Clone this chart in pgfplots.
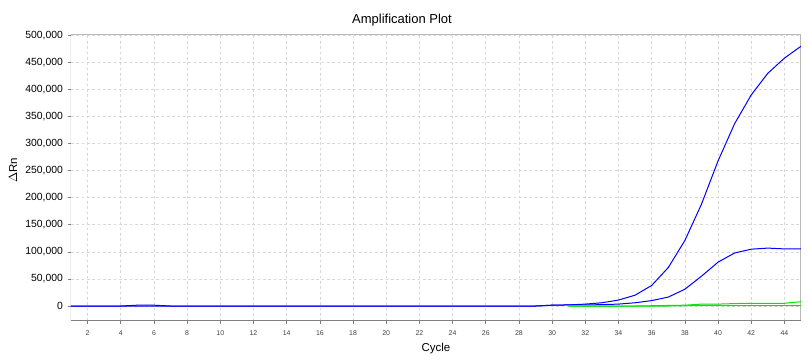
\documentclass[border=0pt]{standalone}
\usepackage{pgfplots}
\pgfplotsset{compat=1.18}
\usepackage{fontspec}
\setmainfont{Liberation Sans}
\definecolor{gridc}{RGB}{215,215,215}
\definecolor{spinedark}{RGB}{128,128,128}
\definecolor{spinelight}{RGB}{185,185,185}
\definecolor{qblue}{RGB}{0,0,255}
\definecolor{qgreen}{RGB}{0,230,0}
\begin{document}
\begin{tikzpicture}
\path[use as bounding box] (-53.25pt,-29.25pt) rectangle (552.75pt,240.75pt);
\begin{axis}[
  at={(0pt,0pt)}, anchor=south west,
  scale only axis, width=547.5pt, height=215pt,
  xmin=1, xmax=45, ymin=-27700, ymax=502000,
  xtick={2,4,...,44},
  ytick={0,50000,...,500000},
  scaled y ticks=false,
  /pgf/number format/.cd, fixed, 1000 sep={,}, assume math mode=true,
  /pgfplots/.cd,
  grid=major,
  major grid style={gridc, dash pattern=on 2pt off 2pt, line width=0.5pt},
  axis line style={draw=none},
  tick style={spinedark, line width=0.5pt},
  tick align=outside,
  major tick length=2.5pt,
  xtick pos=bottom, ytick pos=left,
  x tick label style={font=\fontsize{5.2}{6}\selectfont, text=black!75, yshift=-1pt},
  y tick label style={font=\fontsize{7.8}{9}\selectfont, text=black},
  clip=true,
  every axis plot/.append style={line width=0.75pt, mark=none},
]
% spines
\draw[spinelight, line width=0.75pt] (rel axis cs:0,1) -- (rel axis cs:1,1) -- (rel axis cs:1,0);
\draw[spinedark, line width=0.75pt] (rel axis cs:0,1) -- (rel axis cs:0,0) -- (rel axis cs:1,0);

\addplot[qblue] coordinates {
(1,0)(2,0)(3,0)(4,0)(5,1500)(6,1500)(7,0)(8,0)(9,0)(10,0)(11,0)(12,0)(13,0)(14,0)(15,0)
(16,0)(17,0)(18,0)(19,0)(20,0)(21,0)(22,0)(23,0)(24,0)(25,0)(26,0)(27,0)(28,0)(29,0)
(30,1500)(31,2000)(32,3500)(33,6000)(34,11000)(35,20000)(36,38000)(37,71000)(38,121000)
(39,188000)(40,268000)(41,337000)(42,390000)(43,430000)(44,458000)(45,480000)};
\addplot[qblue] coordinates {
(1,0)(2,0)(3,0)(4,0)(5,0)(6,0)(7,0)(8,0)(9,0)(10,0)(11,0)(12,0)(13,0)(14,0)(15,0)
(16,0)(17,0)(18,0)(19,0)(20,0)(21,0)(22,0)(23,0)(24,0)(25,0)(26,0)(27,0)(28,0)(29,0)
(30,1500)(31,2000)(32,2000)(33,2500)(34,3500)(35,6000)(36,10000)(37,16500)(38,31000)
(39,55000)(40,81000)(41,98000)(42,105000)(43,107000)(44,105500)(45,105500)};
\addplot[qgreen] coordinates {
(31,0)(32,0)(33,0)(34,0)(35,0)(36,0)(37,0)(38,500)(39,1000)(40,1000)(41,500)(42,500)(43,500)(44,500)(45,500)};
\addplot[qgreen] coordinates {
(31,0)(32,0)(33,0)(34,0)(35,0)(36,500)(37,1000)(38,1500)(39,3500)(40,3500)(41,4500)(42,5000)(43,5000)(44,5000)(45,8000)};
\end{axis}
\node[font=\fontsize{9.75}{11}\selectfont] at (248.25pt,225.5pt) {Amplification Plot};
\node[font=\fontsize{8.6}{10}\selectfont, rotate=90] at (-43.5pt,113pt) {$\Delta$Rn};
\node[font=\fontsize{8.6}{10}\selectfont] at (273.75pt,-20.5pt) {Cycle};
\end{tikzpicture}
\end{document}
